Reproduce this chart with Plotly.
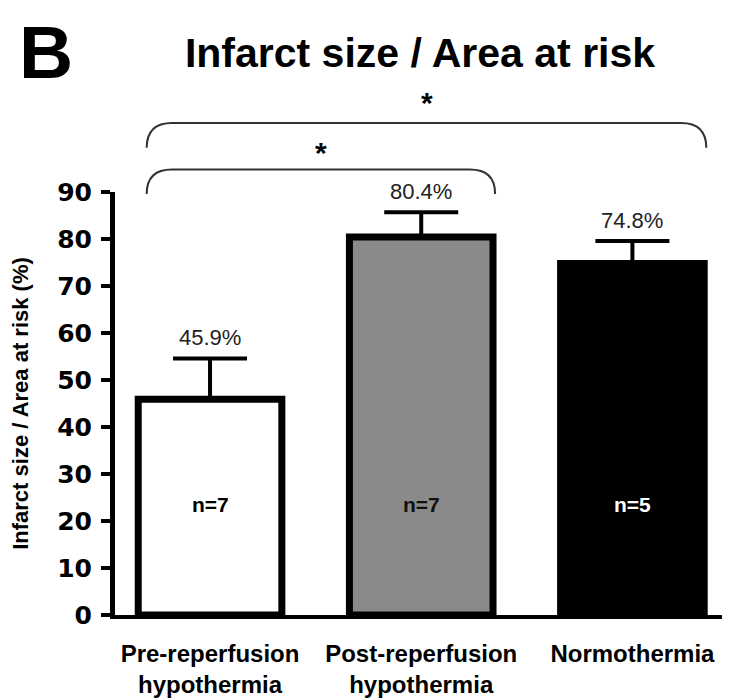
import plotly.graph_objects as go

categories = ["Pre-reperfusion<br>hypothermia", "Post-reperfusion<br>hypothermia", "Normothermia"]
means = [45.9, 80.4, 74.8]
sems = [8.7, 5.3, 4.8]
n_labels = ["n=7", "n=7", "n=5"]
pct_labels = ["45.9%", "80.4%", "74.8%"]
bar_colors = ["#ffffff", "#8a8a8a", "#000000"]
n_colors = ["#000000", "#111111", "#ffffff"]
y_ticks = [0, 10, 20, 30, 40, 50, 60, 70, 80, 90]

FONT = "Liberation Sans, Arial, sans-serif"
x_idx = list(range(len(categories)))

# layout geometry (figure pixels)
W, H = 730, 698
ML, MR, MT, MB = 107, 0, 184, 91
PH = H - MT - MB
PW = W - ML - MR
YMAX = 90.0

fig = go.Figure()
fig.add_trace(go.Bar(
    x=x_idx, y=means, width=0.68,
    marker=dict(color=bar_colors, line=dict(color="black", width=7)),
    error_y=dict(type="data", symmetric=False, array=sems, arrayminus=[0]*3,
                 color="black", thickness=4, width=37),
    showlegend=False, hoverinfo="skip",
))

annotations = []
for i, (m, s, t) in enumerate(zip(means, sems, pct_labels)):
    annotations.append(dict(x=i, y=(m + s + 4.4) / YMAX, xref="x", yref="paper", text=t,
                            showarrow=False, yanchor="middle",
                            font=dict(family=FONT, size=22, color="#222")))
for i, (t, c) in enumerate(zip(n_labels, n_colors)):
    annotations.append(dict(x=i, y=23.5, xref="x", yref="y", text="<b>%s</b>" % t, showarrow=False,
                            font=dict(family=FONT, size=21, color=c)))

# significance brackets: x0, x1, top level, end level, star level (data units)
brackets = [(-0.30, 2.35, 104.7, 99.4, 109.1), (-0.30, 1.35, 94.8, 89.6, 98.4)]
r = 0.12
shapes = []
for x0, x1, ytop, yend, ystar in brackets:
    pt, pe = ytop / YMAX, yend / YMAX
    path = (f"M {x0} {pe} Q {x0} {pt} {x0 + r} {pt} L {x1 - r} {pt} Q {x1} {pt} {x1} {pe}")
    shapes.append(dict(type="path", xref="x", yref="paper", path=path,
                       line=dict(color="#333", width=2)))
    annotations.append(dict(x=(x0 + x1) / 2, y=ystar / YMAX, xref="x", yref="paper",
                            text="<b>*</b>", showarrow=False, yanchor="middle",
                            font=dict(family=FONT, size=30, color="black")))

# panel letter
annotations.append(dict(x=(38 - ML) / PW, y=(H - MB - 1) / PH, xref="paper", yref="paper",
                        text="<b>B</b>", showarrow=False, xanchor="center", yanchor="top",
                        borderpad=0,
                        font=dict(family=FONT, size=75, color="black")))

fig.update_layout(
    width=W, height=H,
    margin=dict(l=ML, r=MR, t=MT, b=MB, autoexpand=False),
    paper_bgcolor="white", plot_bgcolor="white",
    title=dict(text="<b>Infarct size / Area at risk</b>", x=412 / W, xanchor="center",
               y=1 - 45 / H, yanchor="middle", automargin=False,
               font=dict(family=FONT, size=41, color="black")),
    xaxis=dict(range=[-0.45, 2.50], tickvals=x_idx, ticktext=["<b>%s</b>" % c for c in categories],
               showline=True, linecolor="black", linewidth=4, ticks="", showgrid=False,
               zeroline=False, ticklabelstandoff=14, automargin=False,
               tickfont=dict(family=FONT, size=24, color="black")),
    yaxis=dict(range=[0, 90], tickvals=y_ticks, ticktext=["<b>%d</b>" % v for v in y_ticks],
               showline=True, linecolor="black", linewidth=5,
               ticks="outside", ticklen=9, tickwidth=4, tickcolor="black", showgrid=False,
               zeroline=False, ticklabelstandoff=4, automargin=False,
               tickfont=dict(family="DejaVu Sans, sans-serif", size=25, color="black"),
               title=dict(text="<b>Infarct size / Area at risk (%)</b>", standoff=25,
                          font=dict(family=FONT, size=22, color="black"))),
    annotations=annotations, shapes=shapes,
)
fig.write_html("out.html")
